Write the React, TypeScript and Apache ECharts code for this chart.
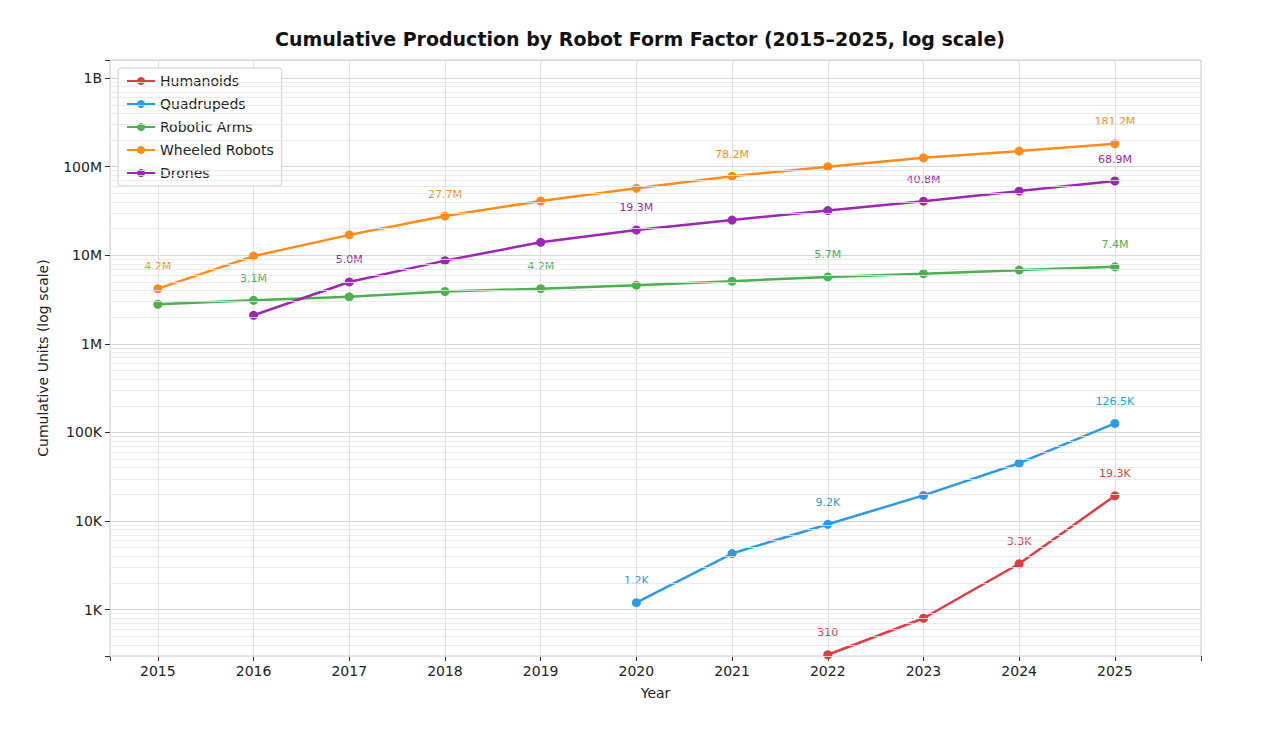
import { useEffect, useRef } from 'react'
import * as echarts from 'echarts'

const years = [2015, 2016, 2017, 2018, 2019, 2020, 2021, 2022, 2023, 2024, 2025]

const humanoids = [null, null, null, null, null, null, null, 310, 800, 3300, 19300]
const quadrupeds = [null, null, null, null, null, 1200, 4300, 9200, 19500, 45000, 126500]
const roboticArms = [2.8e6, 3.1e6, 3.4e6, 3.9e6, 4.2e6, 4.6e6, 5.1e6, 5.7e6, 6.2e6, 6.8e6, 7.4e6]
const wheeled = [4.2e6, 9.8e6, 17e6, 27.7e6, 41e6, 57e6, 78.2e6, 100e6, 126e6, 150e6, 181.2e6]
const drones = [null, 2.1e6, 5.0e6, 8.7e6, 14e6, 19.3e6, 25e6, 32e6, 40.8e6, 53e6, 68.9e6]

// which points carry a value label
const labelled: Record<string, number[]> = {
  Humanoids: [2022, 2024, 2025],
  Quadrupeds: [2020, 2022, 2025],
  'Robotic Arms': [2016, 2019, 2022, 2025],
  'Wheeled Robots': [2015, 2018, 2021, 2025],
  Drones: [2017, 2020, 2023, 2025]
}

const seriesDefs = [
  { name: 'Humanoids', values: humanoids, color: '#e03c44' },
  { name: 'Quadrupeds', values: quadrupeds, color: '#2b9ae8' },
  { name: 'Robotic Arms', values: roboticArms, color: '#4caf50' },
  { name: 'Wheeled Robots', values: wheeled, color: '#ff8c1a' },
  { name: 'Drones', values: drones, color: '#9c27b0' }
]

const fmt = (v: number) => {
  if (v >= 1e9) return +(v / 1e9).toFixed(1) + 'B'
  if (v >= 1e6) return (v / 1e6).toFixed(1) + 'M'
  if (v >= 1e3) return (v / 1e3).toFixed(1) + 'K'
  return String(v)
}

const tickFmt = (v: number) => {
  const l = Math.log10(v)
  if (Math.abs(l - Math.round(l)) > 1e-6) return ''
  const r = Math.round(l)
  return r === 9 ? '1B' : r === 6 ? '1M' : r === 3 ? '1K' : r > 6 ? 10 ** (r - 6) + 'M' : r > 3 ? 10 ** (r - 3) + 'K' : String(10 ** r)
}

const minorLines: number[] = []
for (let e = 2; e <= 9; e++) for (let k = 2; k <= 9; k++) minorLines.push(k * 10 ** e)

export default function App() {
  const ref = useRef<HTMLDivElement | null>(null)

  useEffect(() => {
    if (!ref.current) return
    const chart = echarts.init(ref.current, undefined, { renderer: 'svg' })

    const series: any[] = seriesDefs.map((s) => ({
      name: s.name,
      type: 'line',
      z: 3,
      data: s.values.map((v, i) =>
        v == null
          ? null
          : {
              value: [years[i], v],
              label: {
                show: labelled[s.name].includes(years[i]),
                position: 'top',
                distance: 12,
                color: s.color,
                fontSize: 11,
                formatter: () => fmt(v)
              }
            }
      ),
      color: s.color,
      symbol: 'circle',
      symbolSize: 9,
      lineStyle: { width: 2.5, color: s.color },
      itemStyle: { color: s.color }
    }))
    series.push({
      type: 'line',
      data: [],
      silent: true,
      z: 1,
      markLine: {
        silent: true,
        symbol: 'none',
        label: { show: false },
        lineStyle: { color: '#e6e6e6', width: 0.8, type: 'solid' },
        data: minorLines.map((y) => ({ yAxis: y }))
      }
    })

    chart.setOption({
      animation: false,
      backgroundColor: '#fff',
      textStyle: { fontFamily: 'DejaVu Sans' },
      title: {
        text: 'Cumulative Production by Robot Form Factor (2015–2025, log scale)',
        left: 'center',
        top: 16,
        textStyle: { fontSize: 19, fontWeight: 'bold', color: '#111' }
      },
      legend: {
        orient: 'vertical',
        left: 110,
        top: 60,
        data: seriesDefs.map((s) => s.name),
        itemWidth: 28,
        itemHeight: 10,
        itemGap: 9,
        padding: [6, 8],
        borderColor: '#ccc',
        borderWidth: 1,
        borderRadius: 3,
        backgroundColor: '#fff',
        textStyle: { fontSize: 14, color: '#222' }
      },
      grid: { left: 102, right: 71, top: 52, bottom: 75, show: true, borderColor: '#ccc', borderWidth: 1 },
      xAxis: {
        type: 'value',
        min: 2014.5,
        max: 2025.9,
        minInterval: 1,
        maxInterval: 1,
        name: 'Year',
        nameLocation: 'middle',
        nameGap: 30,
        nameTextStyle: { fontSize: 14, color: '#222' },
        axisLine: { show: false },
        axisTick: { show: true, lineStyle: { color: '#333' } },
        axisLabel: { fontSize: 14, color: '#222', formatter: (v: number) => (Number.isInteger(v) ? String(v) : '') },
        splitLine: { show: true, lineStyle: { color: '#e0e0e0' } }
      },
      yAxis: {
        type: 'log',
        logBase: 10,
        min: 300,
        max: 1.6e9,
        name: 'Cumulative Units (log scale)',
        nameLocation: 'middle',
        nameGap: 60,
        nameTextStyle: { fontSize: 14, color: '#222' },
        axisLine: { show: false },
        axisTick: { show: true, lineStyle: { color: '#333' } },
        axisLabel: { fontSize: 14, color: '#222', formatter: tickFmt },
        splitLine: { show: true, lineStyle: { color: '#d6d6d6' } }
      },
      series
    })

    return () => chart.dispose()
  }, [])

  return <div ref={ref} style={{ width: 1264, height: 723 }} />
}
